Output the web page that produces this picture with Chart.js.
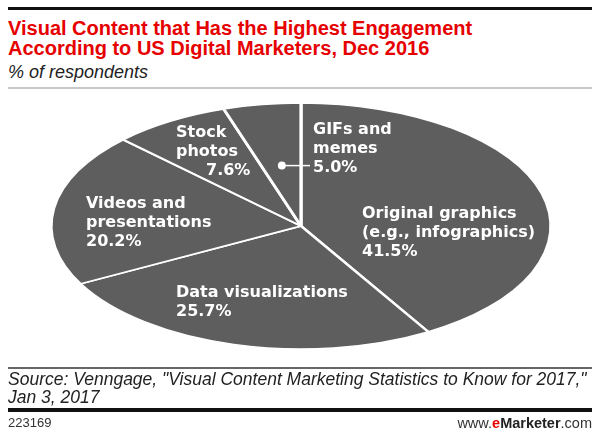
<!DOCTYPE html>
<html>
<head>
<meta charset="utf-8">
<script src="https://cdn.jsdelivr.net/npm/chart.js"></script>
<style>
  body { margin: 0; background: #fff; }
  #wrap { position: relative; width: 600px; height: 439px; overflow: hidden; font-family: "Liberation Sans", Arial, sans-serif; }
  #chart { position: absolute; left: 0; top: 0; }
  .rule { position: absolute; left: 8px; width: 584px; }
  .txt { position: absolute; left: 8px; white-space: nowrap; }
  #title { top: 18px; font-size: 20px; line-height: 20px; font-weight: bold; color: #e60000; }
  #subtitle { top: 62px; font-size: 18px; line-height: 20px; font-style: italic; color: #222; }
  #source { top: 370px; font-size: 17.5px; line-height: 18px; font-style: italic; color: #222; }
  #chartId { top: 416px; font-size: 13px; line-height: 14px; color: #333; }
  #brand { position: absolute; right: 8px; top: 415px; font-size: 14.5px; line-height: 16px; color: #333; }
  #brand b { color: #222; }
  #brand .e { color: #e60000; }
</style>
</head>
<body>
<div id="wrap">
  <div class="rule" style="top:7px;height:3px;background:#111;"></div>
  <div class="txt" id="title">Visual Content that Has the Highest Engagement<br>According to US Digital Marketers, Dec 2016</div>
  <div class="txt" id="subtitle">% of respondents</div>
  <div class="rule" style="top:87px;height:2px;background:#c8c8c8;"></div>
  <canvas id="chart" width="600" height="439"></canvas>
  <div class="rule" style="top:367px;height:2px;background:#666;"></div>
  <div class="txt" id="source">Source: Venngage, "Visual Content Marketing Statistics to Know for 2017,"<br>Jan 3, 2017</div>
  <div class="rule" style="top:408px;height:4px;background:#111;"></div>
  <div class="txt" id="chartId">223169</div>
  <div id="brand">www.<b class="e">e</b><b>Marketer</b>.com</div>
</div>
<script>
// slices, clockwise from 12 o'clock
const categories = [
    ["Original graphics", "(e.g., infographics)"],
    ["Data visualizations"],
    ["Videos and", "presentations"],
    ["Stock", "photos"],
    ["GIFs and", "memes"]
];
const values = [41.5, 25.7, 20.2, 7.6, 5.0];

// label anchors relative to the pie centre (first baseline), px
const labelOffsets = [
    { dx: 61, dy: -8 },
    { dx: -125, dy: 71 },
    { dx: -215, dy: -18 },
    { dx: -125, dy: -89, valueDx: 30 },
    { dx: 12, dy: -92, leader: true }
];

const radiusY = 123;
const radiusX = 250;
const sliceColor = "#5e5e5e";
const lineHeight = 18.8;

// squash the round pie into an ellipse
const ellipsePlugin = {
    id: "ellipse",
    beforeDatasetsDraw(chart) {
        const arc = chart.getDatasetMeta(0).data[0];
        const ctx = chart.ctx;
        ctx.save();
        ctx.translate(arc.x, arc.y);
        ctx.scale(radiusX / radiusY, 1);
        ctx.translate(-arc.x, -arc.y);
    },
    afterDatasetsDraw(chart) {
        chart.ctx.restore();
    }
};

const labelPlugin = {
    id: "sliceLabels",
    afterDraw(chart) {
        const ctx = chart.ctx;
        const meta = chart.getDatasetMeta(0);
        const sx = radiusX / radiusY;
        ctx.save();
        ctx.fillStyle = "#fff";
        ctx.strokeStyle = "#fff";
        ctx.font = 'bold 16px "DejaVu Sans", sans-serif';
        ctx.textBaseline = "alphabetic";
        meta.data.forEach((arc, i) => {
            const off = labelOffsets[i];
            const x = arc.x + off.dx;
            const y = arc.y + off.dy;
            const lines = categories[i];
            lines.forEach((t, j) => ctx.fillText(t, x, y + j * lineHeight));
            const valY = y + lines.length * lineHeight;
            ctx.fillText(values[i].toFixed(1) + "%", x + (off.valueDx || 0), valY);

            if (off.leader) {
                // dot inside the thin slice, joined to the value line
                const mid = (arc.startAngle + arc.endAngle) / 2;
                const r = arc.outerRadius * 0.49;
                const px = arc.x + Math.cos(mid) * r * sx;
                const py = arc.y + Math.sin(mid) * r;
                const ly = valY - 6;
                ctx.beginPath();
                ctx.arc(px, ly, 4, 0, Math.PI * 2);
                ctx.fill();
                ctx.lineWidth = 1.5;
                ctx.beginPath();
                ctx.moveTo(px, ly);
                ctx.lineTo(x - 3, ly);
                ctx.stroke();
            }
        });
        ctx.restore();
    }
};

const chart = new Chart(document.getElementById("chart"), {
    type: "pie",
    data: {
        labels: categories.map(c => c.join(" ")),
        datasets: [{
            data: values,
            backgroundColor: sliceColor,
            borderColor: "#fff",
            borderWidth: 1.6
        }]
    },
    options: {
        responsive: false,
        animation: false,
        events: [],
        radius: radiusY,
        layout: { padding: { top: 103, bottom: 90, left: 178, right: 176 } },
        plugins: {
            legend: { display: false },
            tooltip: { enabled: false },
            title: { display: false }
        }
    },
    plugins: [ellipsePlugin, labelPlugin]
});
</script>
</body>
</html>
